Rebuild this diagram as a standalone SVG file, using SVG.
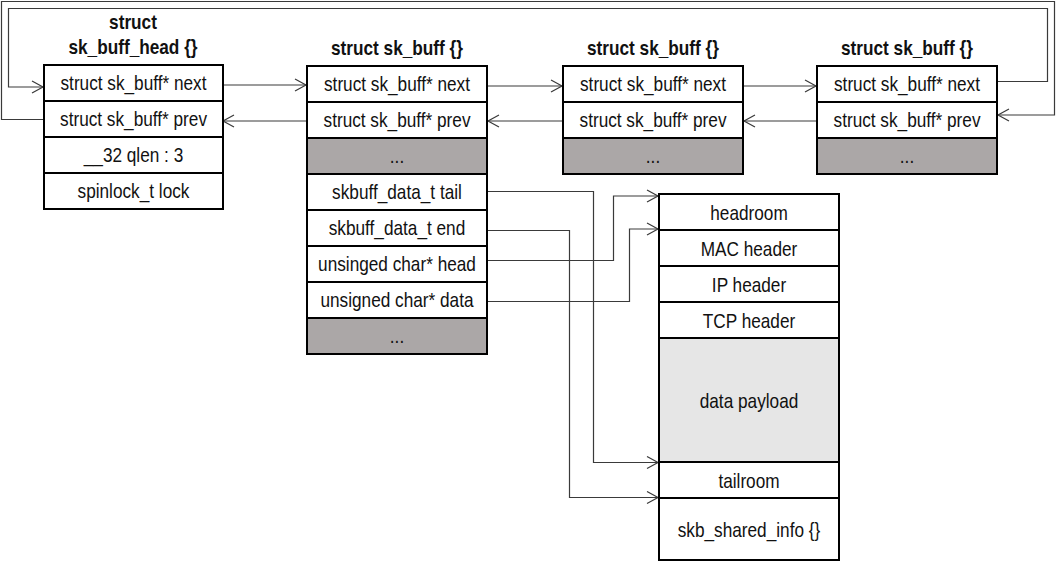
<svg xmlns="http://www.w3.org/2000/svg" width="1056" height="562" viewBox="0 0 1056 562">
<style>
.t{font-family:"Liberation Sans",Arial,sans-serif;font-size:21px;text-anchor:middle;fill:#111}
.b{font-weight:bold}
.box{fill:#fff;stroke:#000;stroke-width:2}
.g{fill:#aba7a7;stroke:#000;stroke-width:2}
.lg{fill:#e6e6e6;stroke:#000;stroke-width:2}
.c{fill:none;stroke:#3a3a3a;stroke-width:1.2}
</style>
<defs>
<marker id="a" markerUnits="userSpaceOnUse" markerWidth="14" markerHeight="14" refX="12" refY="7" orient="auto">
<path d="M1,1 L12,7 L1,13" fill="none" stroke="#3a3a3a" stroke-width="1.2"/>
</marker>
</defs>
<rect width="1056" height="562" fill="#fff"/>

<g id="connectors">
<path class="c" d="M218,85 H306" marker-end="url(#a)"/>
<path class="c" d="M307,121 H223" marker-end="url(#a)"/>
<path class="c" d="M487,86 H562" marker-end="url(#a)"/>
<path class="c" d="M563,121 H488" marker-end="url(#a)"/>
<path class="c" d="M743,86 H816" marker-end="url(#a)"/>
<path class="c" d="M817,121 H744" marker-end="url(#a)"/>
<path class="c" d="M997,81.5 H1047.5 V8.5 H8.5 V87 H43" marker-end="url(#a)"/>
<path class="c" d="M44,119.5 H1.5 V1.5 H1054.5 V115 H998" marker-end="url(#a)"/>
<path class="c" d="M487,191.5 H593.5 V462.5 H658" marker-end="url(#a)"/>
<path class="c" d="M487,230.5 H569.5 V497.5 H658" marker-end="url(#a)"/>
<path class="c" d="M487,260.5 H613.5 V196 H658" marker-end="url(#a)"/>
<path class="c" d="M487,301.5 H629.5 V229 H658" marker-end="url(#a)"/>
</g>

<g id="sk_buff_head">
<rect class="box" x="44" y="65" width="179" height="36"/>
<rect class="box" x="44" y="101" width="179" height="36"/>
<rect class="box" x="44" y="137" width="179" height="36"/>
<rect class="box" x="44" y="173" width="179" height="36"/>
<text class="t b" transform="translate(133,29) scale(0.82,1)">struct</text>
<text class="t b" transform="translate(133,54) scale(0.82,1)">sk_buff_head {}</text>
<text class="t" transform="translate(133.5,90) scale(0.82,1)">struct sk_buff* next</text>
<text class="t" transform="translate(133.5,126) scale(0.82,1)">struct sk_buff* prev</text>
<text class="t" transform="translate(133.5,162) scale(0.82,1)">__32 qlen : 3</text>
<text class="t" transform="translate(133.5,198) scale(0.82,1)">spinlock_t lock</text>
</g>

<g id="sk_buff_1">
<rect class="box" x="307" y="66" width="180" height="36"/>
<rect class="box" x="307" y="102" width="180" height="36"/>
<rect class="g" x="307" y="138" width="180" height="36"/>
<rect class="box" x="307" y="174" width="180" height="36"/>
<rect class="box" x="307" y="210" width="180" height="36"/>
<rect class="box" x="307" y="246" width="180" height="36"/>
<rect class="box" x="307" y="282" width="180" height="36"/>
<rect class="g" x="307" y="318" width="180" height="36"/>
<text class="t b" transform="translate(397,55) scale(0.82,1)">struct sk_buff {}</text>
<text class="t" transform="translate(397,91) scale(0.82,1)">struct sk_buff* next</text>
<text class="t" transform="translate(397,127) scale(0.82,1)">struct sk_buff* prev</text>
<text class="t" transform="translate(397,163) scale(0.82,1)">...</text>
<text class="t" transform="translate(397,199) scale(0.82,1)">skbuff_data_t tail</text>
<text class="t" transform="translate(397,235) scale(0.82,1)">skbuff_data_t end</text>
<text class="t" transform="translate(397,271) scale(0.82,1)">unsinged char* head</text>
<text class="t" transform="translate(397,307) scale(0.82,1)">unsigned char* data</text>
<text class="t" transform="translate(397,343) scale(0.82,1)">...</text>
</g>

<g id="sk_buff_2">
<rect class="box" x="563" y="66" width="180" height="36"/>
<rect class="box" x="563" y="102" width="180" height="36"/>
<rect class="g" x="563" y="138" width="180" height="36"/>
<text class="t b" transform="translate(653,55) scale(0.82,1)">struct sk_buff {}</text>
<text class="t" transform="translate(653,91) scale(0.82,1)">struct sk_buff* next</text>
<text class="t" transform="translate(653,127) scale(0.82,1)">struct sk_buff* prev</text>
<text class="t" transform="translate(653,163) scale(0.82,1)">...</text>
</g>

<g id="sk_buff_3">
<rect class="box" x="817" y="66" width="180" height="36"/>
<rect class="box" x="817" y="102" width="180" height="36"/>
<rect class="g" x="817" y="138" width="180" height="36"/>
<text class="t b" transform="translate(907,55) scale(0.82,1)">struct sk_buff {}</text>
<text class="t" transform="translate(907,91) scale(0.82,1)">struct sk_buff* next</text>
<text class="t" transform="translate(907,127) scale(0.82,1)">struct sk_buff* prev</text>
<text class="t" transform="translate(907,163) scale(0.82,1)">...</text>
</g>

<g id="data_buffer">
<rect class="box" x="659" y="194" width="180" height="36"/>
<rect class="box" x="659" y="230" width="180" height="36"/>
<rect class="box" x="659" y="266" width="180" height="36"/>
<rect class="box" x="659" y="302" width="180" height="36"/>
<rect class="lg" x="659" y="338" width="180" height="124"/>
<rect class="box" x="659" y="462" width="180" height="36"/>
<rect class="box" x="659" y="498" width="180" height="62"/>
<text class="t" transform="translate(749,219.5) scale(0.82,1)">headroom</text>
<text class="t" transform="translate(749,255.5) scale(0.82,1)">MAC header</text>
<text class="t" transform="translate(749,291.5) scale(0.82,1)">IP header</text>
<text class="t" transform="translate(749,327.5) scale(0.82,1)">TCP header</text>
<text class="t" transform="translate(749,407.5) scale(0.82,1)">data payload</text>
<text class="t" transform="translate(749,487.5) scale(0.82,1)">tailroom</text>
<text class="t" transform="translate(749,536.5) scale(0.82,1)">skb_shared_info {}</text>
</g>
</svg>
